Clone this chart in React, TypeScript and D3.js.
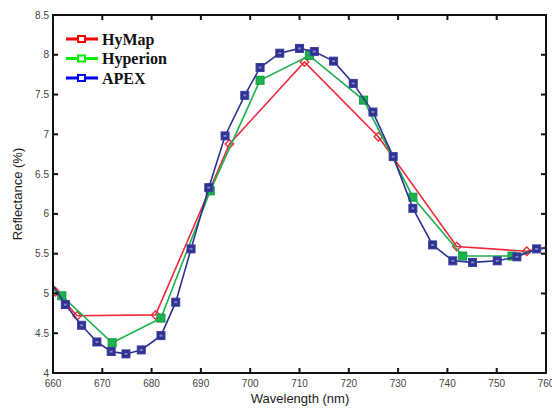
import * as d3 from "d3";

const hymapWl = [660.5, 664.9, 680.8, 695.8, 711, 726, 741.9, 756.1, 764];
const hymapVal = [5.02, 4.72, 4.73, 6.88, 7.91, 6.97, 5.59, 5.53, 5.64];

const hyperionWl = [658, 661.8, 672, 681.9, 691.9, 702, 712, 723, 733, 743.1, 753.1, 763];
const hyperionVal = [5.14, 4.97, 4.38, 4.69, 6.29, 7.68, 7.99, 7.43, 6.21, 5.47, 5.47, 5.62];

const apexWl = [659, 662.5, 665.8, 668.9, 671.8, 674.8, 677.9, 681.9, 684.9, 688, 691.6, 694.9, 698.9, 702, 706, 710, 713, 716.9, 720.9, 724.9, 729, 733, 737, 741.1, 745.1, 750.1, 754.1, 758.1, 762];
const apexVal = [5.2, 4.86, 4.6, 4.39, 4.27, 4.24, 4.29, 4.47, 4.89, 5.56, 6.33, 6.98, 7.49, 7.84, 8.02, 8.08, 8.04, 7.92, 7.64, 7.28, 6.72, 6.07, 5.61, 5.41, 5.39, 5.41, 5.46, 5.56, 5.58];

const xTicks = [660, 670, 680, 690, 700, 710, 720, 730, 740, 750, 760];
const yTicks = [4, 4.5, 5, 5.5, 6, 6.5, 7, 7.5, 8, 8.5];

const legendNames = ["HyMap", "Hyperion", "APEX"];
const legendColors = ["#ff0000", "#00ee00", "#0000ff"];

const width = 552;
const height = 408;
const left = 53;
const right = 546;
const top = 15;
const bottom = 373;

export default function App() {
  const x = d3.scaleLinear().domain([660, 760]).range([left, right]);
  const y = d3.scaleLinear().domain([4, 8.5]).range([bottom, top]);
  const line = d3
    .line<[number, number]>()
    .x((d) => x(d[0]))
    .y((d) => y(d[1]));

  const red = hymapWl.map((w, i) => [w, hymapVal[i]] as [number, number]);
  const green = hyperionWl.map((w, i) => [w, hyperionVal[i]] as [number, number]);
  const blue = apexWl.map((w, i) => [w, apexVal[i]] as [number, number]);

  return (
    <svg
      width={width}
      height={height}
      style={{ position: "absolute", left: 0, top: 0, background: "white" }}
      fontFamily="Liberation Sans, Arial, sans-serif"
    >
      <defs>
        <clipPath id="plot">
          <rect x={left} y={top} width={right - left} height={bottom - top} />
        </clipPath>
      </defs>

      <g clipPath="url(#plot)">
        <path d={line(red) ?? ""} fill="none" stroke="#ee2b3b" strokeWidth={1.6} />
        {red.map((d, i) => (
          <rect
            key={"r" + i}
            x={x(d[0]) - 3}
            y={y(d[1]) - 3}
            width={6}
            height={6}
            fill="none"
            stroke="#ee2b3b"
            strokeWidth={1.4}
            transform={`rotate(45 ${x(d[0])} ${y(d[1])})`}
          />
        ))}
        <path d={line(green) ?? ""} fill="none" stroke="#1cb14f" strokeWidth={1.6} />
        {green.map((d, i) => (
          <rect
            key={"g" + i}
            x={x(d[0]) - 4}
            y={y(d[1]) - 4}
            width={8}
            height={8}
            fill="#1cb14f"
            stroke="#119a40"
            strokeWidth={1}
          />
        ))}
        <path d={line(blue) ?? ""} fill="none" stroke="#2e3192" strokeWidth={1.6} />
        {blue.map((d, i) => (
          <g key={"b" + i}>
            <rect
              x={x(d[0]) - 4}
              y={y(d[1]) - 4}
              width={8}
              height={8}
              fill="#2e3192"
              stroke="#3a3f9e"
              strokeWidth={1}
            />
            <rect
              x={x(d[0]) - 1.5}
              y={y(d[1]) - 1}
              width={3}
              height={2}
              fill="#7f83c4"
            />
          </g>
        ))}
      </g>

      {/* frame */}
      <rect
        x={left}
        y={top}
        width={right - left}
        height={bottom - top}
        fill="none"
        stroke="#111"
        strokeWidth={2}
      />

      {xTicks.map((t) => (
        <g key={"x" + t}>
          <line x1={x(t)} x2={x(t)} y1={bottom} y2={bottom - 5} stroke="#111" strokeWidth={2} />
          <line x1={x(t)} x2={x(t)} y1={top} y2={top + 5} stroke="#111" strokeWidth={2} />
          <text x={x(t)} y={bottom + 14} textAnchor="middle" fontSize={10} fill="#444">
            {t}
          </text>
        </g>
      ))}
      {yTicks.map((t) => (
        <g key={"y" + t}>
          <line x1={left} x2={left + 5} y1={y(t)} y2={y(t)} stroke="#111" strokeWidth={2} />
          <line x1={right} x2={right - 5} y1={y(t)} y2={y(t)} stroke="#111" strokeWidth={2} />
          <text x={left - 4} y={y(t)} dy="0.35em" textAnchor="end" fontSize={10} fill="#444">
            {String(t)}
          </text>
        </g>
      ))}

      <text x={300} y={403} textAnchor="middle" fontSize={13} fill="#222">
        Wavelength (nm)
      </text>
      <text
        transform={`translate(22 ${(top + bottom) / 2}) rotate(-90)`}
        textAnchor="middle"
        fontSize={13}
        fill="#222"
      >
        Reflectance (%)
      </text>

      {legendNames.map((n, i) => {
        const ly = 39 + i * 19.5;
        return (
          <g key={n}>
            <line x1={66} x2={98} y1={ly} y2={ly} stroke={legendColors[i]} strokeWidth={3} />
            <rect
              x={78}
              y={ly - 3}
              width={7}
              height={6}
              fill="white"
              stroke={legendColors[i]}
              strokeWidth={2}
            />
            <text
              x={102}
              y={ly}
              dy="0.35em"
              fontSize={16}
              fontWeight="bold"
              fontFamily="Liberation Serif, Times New Roman, serif"
              fill="#111"
            >
              {n}
            </text>
          </g>
        );
      })}
    </svg>
  );
}
